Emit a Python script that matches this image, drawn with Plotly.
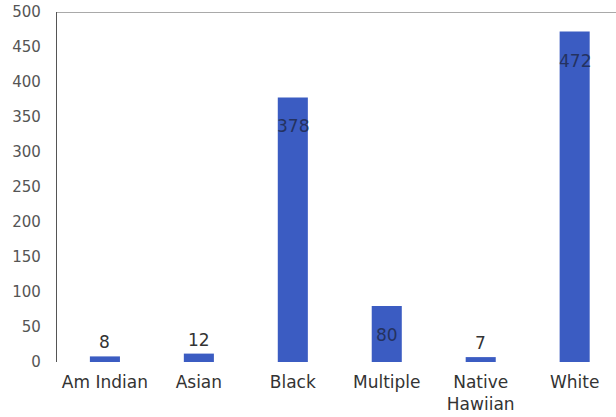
import plotly.graph_objects as go

# Race / ethnicity counts
categories = ["Am Indian", "Asian", "Black", "Multiple", "Native<br>Hawiian", "White"]
counts = [8, 12, 378, 80, 7, 472]
y_ticks = [0, 50, 100, 150, 200, 250, 300, 350, 400, 450, 500]

BAR_BLUE = "#3b5cc2"
LABEL_NAVY = "#243260"
FONT = "DejaVu Sans"

fig = go.Figure()
fig.add_trace(go.Bar(
    x=categories,
    y=counts,
    width=0.32,
    marker=dict(color=BAR_BLUE, line=dict(width=0)),
    hoverinfo="skip",
))

# value labels: inside near the top for tall bars, above for short ones
for cat, v in zip(categories, counts):
    if v >= 50:
        fig.add_annotation(x=cat, y=v, text=str(v), showarrow=False,
                           yanchor="top", yshift=-17,
                           font=dict(family=FONT, size=17, color=LABEL_NAVY))
    else:
        fig.add_annotation(x=cat, y=v, text=str(v), showarrow=False,
                           yanchor="bottom", yshift=2,
                           font=dict(family=FONT, size=17, color="#333333"))

# top border of the plot area
fig.add_shape(type="line", xref="paper", yref="y", x0=0, x1=1, y0=500, y1=500,
              line=dict(color="#555555", width=1.2))

fig.update_layout(
    width=616, height=417,
    margin=dict(l=57, r=0, t=12, b=55, autoexpand=False),
    paper_bgcolor="white",
    plot_bgcolor="white",
    showlegend=False,
    xaxis=dict(
        type="category",
        range=[-0.51, 5.44],
        showgrid=False,
        zeroline=False,
        showline=False,
        ticks="",
        tickangle=0,
        ticklabelstandoff=8,
        automargin=False,
        tickfont=dict(family=FONT, size=17, color="#333333"),
    ),
    yaxis=dict(
        range=[0, 500],
        tickmode="array",
        tickvals=y_ticks,
        showgrid=False,
        zeroline=False,
        showline=True,
        linecolor="#555555",
        linewidth=1.2,
        ticks="",
        ticklabelstandoff=12,
        automargin=False,
        tickfont=dict(family=FONT, size=15, color="#555555"),
    ),
)

fig.write_html("out.html")
